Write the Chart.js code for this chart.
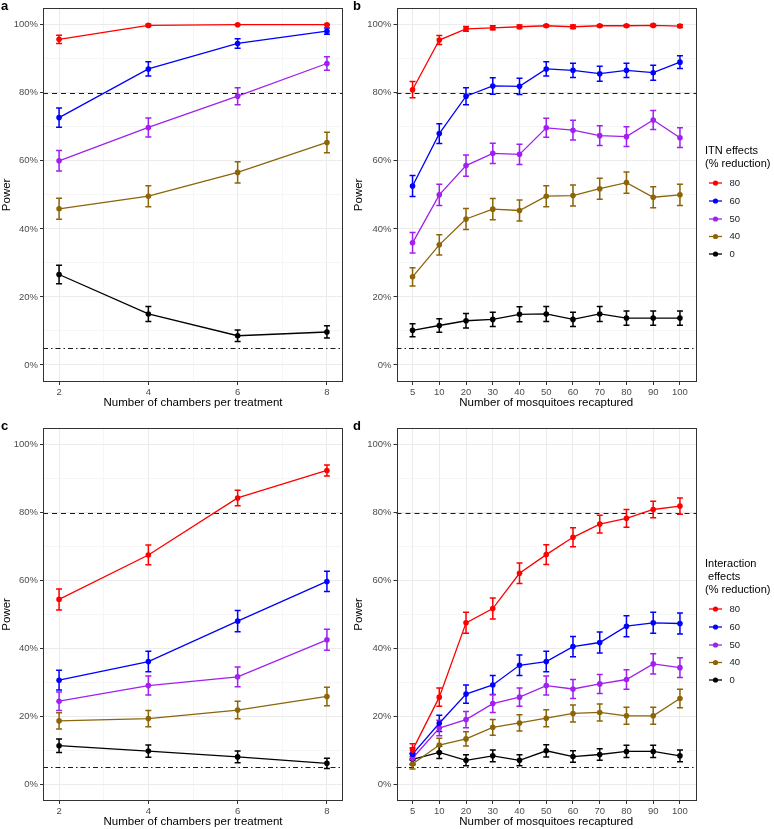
<!DOCTYPE html>
<html>
<head>
<meta charset="utf-8">
<script src="https://cdn.jsdelivr.net/npm/chart.js@4.4.1/dist/chart.umd.min.js"></script>
<style>
  body { margin: 0; background: #fff; width: 774px; height: 829px; position: relative; overflow: hidden; }
  .panel { position: absolute; }
</style>
</head>
<body>
<div class="panel" style="left:0;top:0;width:346px;height:420px"><canvas id="pa"></canvas></div>
<div class="panel" style="left:346px;top:0;width:428px;height:420px"><canvas id="pb"></canvas></div>
<div class="panel" style="left:0;top:420px;width:346px;height:409px"><canvas id="pc"></canvas></div>
<div class="panel" style="left:346px;top:420px;width:428px;height:409px"><canvas id="pd"></canvas></div>
<script>
//Категории и подписи осей
const chambers = [2, 4, 6, 8];
const recaptured = ['5', '10', '20', '30', '40', '50', '60', '70', '80', '90', '100'];
const effects = ['80', '60', '50', '40', '0'];
const colours = ['#FF0000', '#0000FF', '#A020F0', '#8B6508', '#000000'];
const powerTicks = [0, 20, 40, 60, 80, 100];
const targetPower = 80;
const alphaLevel = 5;

//a: ITN, число камер (ряды в порядке effects)
const itnChambers = [
  [95.7, 99.8, 100, 100],
  [72.7, 87.0, 94.5, 98.1],
  [60.0, 69.8, 79.0, 88.6],
  [45.9, 49.6, 56.6, 65.4],
  [26.6, 15.0, 8.6, 9.7]
];
const itnChambersErr = [
  [1.2, 0.3, 0.1, 0.1],
  [2.8, 2.1, 1.4, 0.9],
  [3.0, 2.8, 2.5, 2.0],
  [3.1, 3.1, 3.1, 3.0],
  [2.7, 2.2, 1.7, 1.8]
];

//b: ITN, число пойманных комаров
const itnMosquitoes = [
  [80.9, 95.5, 98.8, 99.1, 99.4, 99.7, 99.4, 99.7, 99.7, 99.8, 99.6],
  [52.6, 68.0, 79.0, 82.0, 81.9, 87.0, 86.6, 85.6, 86.6, 85.9, 89.0],
  [35.9, 50.0, 58.6, 62.2, 61.9, 69.7, 69.0, 67.4, 67.1, 72.0, 66.8],
  [25.9, 35.3, 42.9, 45.8, 45.4, 49.6, 49.8, 51.8, 53.6, 49.3, 50.0],
  [10.2, 11.6, 13.0, 13.4, 14.9, 15.0, 13.4, 15.0, 13.8, 13.8, 13.8]
];
const itnMosquitoesErr = [
  [2.4, 1.3, 0.7, 0.6, 0.5, 0.3, 0.5, 0.3, 0.3, 0.3, 0.4],
  [3.1, 2.9, 2.5, 2.4, 2.4, 2.1, 2.1, 2.2, 2.1, 2.2, 1.9],
  [3.0, 3.1, 3.1, 3.0, 3.0, 2.8, 2.9, 2.9, 2.9, 2.8, 2.9],
  [2.7, 3.0, 3.1, 3.1, 3.1, 3.1, 3.1, 3.1, 3.1, 3.1, 3.1],
  [1.9, 2.0, 2.1, 2.1, 2.2, 2.2, 2.1, 2.2, 2.1, 2.1, 2.1]
];

//c: взаимодействие, число камер
const intChambers = [
  [54.4, 67.5, 84.3, 92.4],
  [30.6, 36.1, 48.0, 59.7],
  [24.4, 29.0, 31.6, 42.5],
  [18.6, 19.3, 21.8, 25.8],
  [11.3, 9.7, 8.0, 6.1]
];
const intChambersErr = [
  [3.1, 2.9, 2.3, 1.6],
  [2.9, 3.0, 3.1, 3.0],
  [2.7, 2.8, 2.9, 3.1],
  [2.4, 2.4, 2.6, 2.7],
  [2.0, 1.8, 1.7, 1.5]
];

//d: взаимодействие, число пойманных комаров
const intMosquitoes = [
  [10.0, 25.6, 47.5, 51.7, 62.1, 67.6, 72.7, 76.6, 78.3, 80.9, 81.9],
  [8.8, 17.9, 26.5, 29.2, 35.0, 36.1, 40.5, 41.7, 46.5, 47.5, 47.3],
  [7.6, 16.5, 19.0, 23.7, 25.6, 29.0, 28.0, 29.5, 30.8, 35.4, 34.3],
  [5.9, 11.5, 13.3, 16.7, 18.0, 19.4, 20.8, 21.1, 20.1, 20.1, 25.2],
  [7.3, 9.3, 7.0, 8.3, 7.0, 9.8, 8.1, 8.7, 9.6, 9.6, 8.3]
];
const intMosquitoesErr = [
  [1.9, 2.7, 3.1, 3.1, 3.0, 2.9, 2.8, 2.6, 2.6, 2.4, 2.4],
  [1.8, 2.4, 2.7, 2.8, 3.0, 3.0, 3.0, 3.1, 3.1, 3.1, 3.1],
  [1.6, 2.3, 2.4, 2.6, 2.7, 2.8, 2.8, 2.8, 2.9, 3.0, 2.9],
  [1.5, 2.0, 2.1, 2.3, 2.4, 2.5, 2.5, 2.5, 2.5, 2.5, 2.7],
  [1.6, 1.8, 1.6, 1.7, 1.6, 1.8, 1.7, 1.7, 1.8, 1.8, 1.7]
];

Chart.defaults.font.family = '"Liberation Sans", Arial, sans-serif';
Chart.defaults.animation = false;

const GRID = '#EBEBEB';
const MINOR = '#F2F2F2';
const BORDER = '#333333';

//Плагин: опорные линии, доверительные интервалы, рамка, буква панели, легенда
const decor = {
  id: 'decor',
  beforeDatasetsDraw(chart, args, opts) {
    const { ctx, chartArea: a, scales: { y } } = chart;
    ctx.save();
    ctx.strokeStyle = '#1A1A1A';
    ctx.lineWidth = 1.1;
    [[targetPower, [5, 4]], [alphaLevel, [5, 3, 1.5, 3]]].forEach(([v, dash]) => {
      const py = Math.round(y.getPixelForValue(v)) + 0.5;
      ctx.setLineDash(dash);
      ctx.beginPath();
      ctx.moveTo(a.left, py);
      ctx.lineTo(a.right, py);
      ctx.stroke();
    });
    ctx.setLineDash([]);
    ctx.lineWidth = 1.5;
    chart.data.datasets.forEach((ds, i) => {
      const meta = chart.getDatasetMeta(i);
      ctx.strokeStyle = ds.borderColor;
      ds.data.forEach((p, j) => {
        const e = opts.errors[i][j];
        const x = meta.data[j].x;
        const y1 = y.getPixelForValue(p.y - e);
        const y2 = y.getPixelForValue(p.y + e);
        ctx.beginPath();
        ctx.moveTo(x, y1); ctx.lineTo(x, y2);
        ctx.moveTo(x - 3, y1); ctx.lineTo(x + 3, y1);
        ctx.moveTo(x - 3, y2); ctx.lineTo(x + 3, y2);
        ctx.stroke();
      });
    });
    ctx.restore();
  },
  afterDraw(chart, args, opts) {
    const { ctx, chartArea: a } = chart;
    ctx.save();
    ctx.strokeStyle = BORDER;
    ctx.lineWidth = 1;
    ctx.strokeRect(Math.round(a.left) + 0.5, Math.round(a.top) + 0.5,
      Math.round(a.right - a.left) - 1, Math.round(a.bottom - a.top) - 1);

    ctx.fillStyle = '#000';
    ctx.font = 'bold 13px "Liberation Sans", Arial, sans-serif';
    ctx.textBaseline = 'middle';
    ctx.fillText(opts.letter, opts.letterX, 6);

    const lg = opts.legend;
    if (lg) {
      ctx.font = '11px "Liberation Sans", Arial, sans-serif';
      lg.title.forEach((t, k) => ctx.fillText(t, lg.x, lg.titleY[k]));
      chart.data.datasets.forEach((ds, i) => {
        const yy = lg.entryY[i];
        ctx.strokeStyle = ds.borderColor;
        ctx.fillStyle = ds.borderColor;
        ctx.lineWidth = 1.3;
        ctx.beginPath();
        ctx.moveTo(lg.x + 4, yy); ctx.lineTo(lg.x + 17, yy);
        ctx.stroke();
        ctx.beginPath();
        ctx.arc(lg.x + 10.5, yy, 2.6, 0, Math.PI * 2);
        ctx.fill();
        ctx.fillStyle = '#1A1A1A';
        ctx.font = '9.5px "Liberation Sans", Arial, sans-serif';
        ctx.fillText(ds.label, lg.x + 24.5, yy);
      });
    }
    ctx.restore();
  }
};

//Построение одной панели
function makePanel(id, xs, minX, maxX, tickVals, tickLabel, isMajor, series, errors, cfg) {
  return new Chart(document.getElementById(id), {
    type: 'line',
    data: {
      datasets: series.map((vals, i) => ({
        label: effects[i],
        data: vals.map((v, j) => ({ x: xs[j], y: v })),
        borderColor: colours[i],
        backgroundColor: colours[i],
        borderWidth: 1.3,
        pointRadius: 2.8,
        pointHoverRadius: 2.8,
        pointBorderWidth: 0,
        tension: 0
      }))
    },
    options: {
      responsive: true,
      maintainAspectRatio: false,
      events: [],
      layout: { padding: { left: 0, right: cfg.padRight, top: 1, bottom: 0 } },
      plugins: {
        legend: { display: false },
        tooltip: { enabled: false },
        decor: { errors: errors, letter: cfg.letter, letterX: cfg.letterX, legend: cfg.legend }
      },
      scales: {
        x: {
          type: 'linear',
          min: minX,
          max: maxX,
          afterBuildTicks: s => { s.ticks = tickVals.map(v => ({ value: v })); },
          afterFit: s => { s.height = cfg.xHeight; },
          border: { display: false },
          grid: {
            color: c => isMajor(c.tick.value) ? GRID : MINOR,
            lineWidth: c => isMajor(c.tick.value) ? 1 : 0.7,
            tickColor: c => isMajor(c.tick.value) ? BORDER : 'rgba(0,0,0,0)',
            tickLength: 3,
            tickWidth: 1
          },
          ticks: {
            callback: tickLabel,
            color: '#4D4D4D',
            font: { size: 9.5 },
            padding: 2,
            maxRotation: 0,
            autoSkip: false
          },
          title: {
            display: true,
            text: cfg.xTitle,
            color: '#000',
            font: { size: 11.5 },
            padding: { top: 0, bottom: cfg.xTitlePad }
          }
        },
        y: {
          min: -5,
          max: 105,
          afterBuildTicks: s => { s.ticks = [0, 10, 20, 30, 40, 50, 60, 70, 80, 90, 100].map(v => ({ value: v })); },
          afterFit: s => { s.width = cfg.yWidth; },
          border: { display: false },
          grid: {
            color: c => powerTicks.includes(c.tick.value) ? GRID : MINOR,
            lineWidth: c => powerTicks.includes(c.tick.value) ? 1 : 0.7,
            tickColor: c => powerTicks.includes(c.tick.value) ? BORDER : 'rgba(0,0,0,0)',
            tickLength: 3,
            tickWidth: 1
          },
          ticks: {
            callback: v => powerTicks.includes(v) ? v + '%' : '',
            color: '#4D4D4D',
            font: { size: 9.5 },
            padding: 2,
            autoSkip: false
          },
          title: {
            display: true,
            text: 'Power',
            color: '#000',
            font: { size: 11.5 },
            padding: { top: cfg.yTitlePad, bottom: 0 }
          }
        }
      }
    },
    plugins: [decor]
  });
}

const chamberTicks = [2, 3, 4, 5, 6, 7, 8];
const chamberLabel = v => v % 2 === 0 ? String(v) : '';
const chamberMajor = v => v % 2 === 0;
const mosqIdx = recaptured.map((_, i) => i);
const mosqLabel = v => recaptured[v];
const allMajor = () => true;

const legendTitleA = ['ITN effects', '(% reduction)'];
const legendTitleB = ['Interaction', ' effects', '(% reduction)'];

makePanel('pa', chambers, 1.64, 8.36, chamberTicks, chamberLabel, chamberMajor, itnChambers, itnChambersErr, {
  letter: 'a', letterX: 1, padRight: 3, xHeight: 38, xTitlePad: 10, yWidth: 43, yTitlePad: 0,
  xTitle: 'Number of chambers per treatment'
});
makePanel('pb', mosqIdx, -0.6, 10.6, mosqIdx, mosqLabel, allMajor, itnMosquitoes, itnMosquitoesErr, {
  letter: 'b', letterX: 7, padRight: 78, xHeight: 38, xTitlePad: 10, yWidth: 50.5, yTitlePad: 5.5,
  xTitle: 'Number of mosquitoes recaptured',
  legend: { x: 359, title: legendTitleA, titleY: [151, 164], entryY: [183, 201, 219, 236.5, 254] }
});
makePanel('pc', chambers, 1.64, 8.36, chamberTicks, chamberLabel, chamberMajor, intChambers, intChambersErr, {
  letter: 'c', letterX: 1, padRight: 3, xHeight: 28, xTitlePad: 0, yWidth: 43, yTitlePad: 0,
  xTitle: 'Number of chambers per treatment'
});
makePanel('pd', mosqIdx, -0.6, 10.6, mosqIdx, mosqLabel, allMajor, intMosquitoes, intMosquitoesErr, {
  letter: 'd', letterX: 7, padRight: 78, xHeight: 28, xTitlePad: 0, yWidth: 50.5, yTitlePad: 5.5,
  xTitle: 'Number of mosquitoes recaptured',
  legend: { x: 359, title: legendTitleB, titleY: [144, 157, 170], entryY: [189, 207, 225, 242.5, 260] }
});
</script>
</body>
</html>
